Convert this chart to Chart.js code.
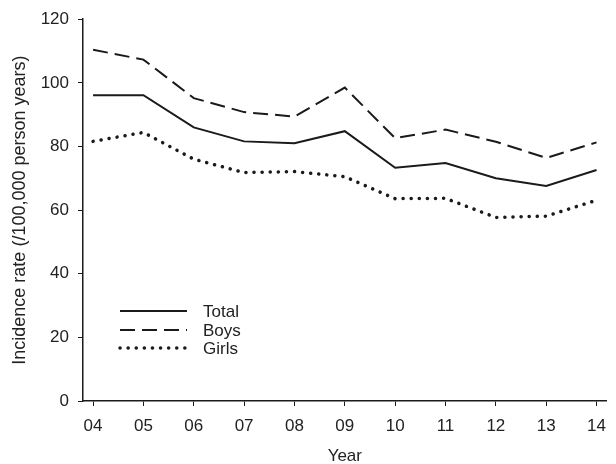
<!DOCTYPE html>
<html>
<head>
<meta charset="utf-8">
<script src="https://cdn.jsdelivr.net/npm/chart.js@4"></script>
<style>
  html, body { margin: 0; padding: 0; background: #fff; }
  #wrap { width: 616px; height: 464px; }
</style>
</head>
<body>
<div id="wrap"><canvas id="chart" width="616" height="464"></canvas></div>
<script>
// data
const years = [4, 5, 6, 7, 8, 9, 10, 11, 12, 13, 14];
const totalRates = [96.1, 96.1, 86.0, 81.6, 81.0, 84.8, 73.3, 74.8, 70.0, 67.6, 72.6];
const boysRates = [110.4, 107.3, 95.2, 90.8, 89.4, 98.5, 82.6, 85.3, 81.5, 76.4, 81.3];
const girlsRates = [81.6, 84.4, 76.0, 71.8, 72.1, 70.5, 63.6, 63.7, 57.7, 58.1, 63.1];
const seriesNames = ["Total", "Boys", "Girls"];
const yTicks = [0, 20, 40, 60, 80, 100, 120];

const ink = "#1a1a1a";
const family = "'Liberation Sans', Arial, sans-serif";
const font = { family: family, size: 17 };

const toPoints = (vals) => vals.map((v, i) => ({ x: years[i], y: v }));

// legend drawn inside the plot, lines like the original
const lineLegend = {
    id: "lineLegend",
    afterDraw(chart) {
        const ctx = chart.ctx;
        const x0 = 120, x1 = 187, tx = 203;
        const rows = [311, 330, 348];
        chart.data.datasets.forEach((ds, i) => {
            ctx.save();
            ctx.strokeStyle = ds.borderColor;
            ctx.lineWidth = ds.borderWidth;
            ctx.lineCap = ds.borderCapStyle || "butt";
            ctx.setLineDash(ds.borderDash || []);
            ctx.beginPath();
            ctx.moveTo(x0, rows[i]);
            ctx.lineTo(x1, rows[i]);
            ctx.stroke();
            ctx.setLineDash([]);
            ctx.fillStyle = "#222";
            ctx.font = font.size + "px " + family;
            ctx.textBaseline = "middle";
            ctx.fillText(ds.label, tx, rows[i] + 1);
            ctx.restore();
        });
    }
};

new Chart(document.getElementById("chart"), {
    type: "line",
    data: {
        datasets: [
            {
                label: seriesNames[0],
                data: toPoints(totalRates),
                borderColor: ink,
                borderWidth: 2,
                pointRadius: 0,
                tension: 0
            },
            {
                label: seriesNames[1],
                data: toPoints(boysRates),
                borderColor: ink,
                borderWidth: 2,
                borderDash: [15, 7],
                pointRadius: 0,
                tension: 0
            },
            {
                label: seriesNames[2],
                data: toPoints(girlsRates),
                borderColor: ink,
                borderWidth: 3.5,
                borderDash: [0.1, 8],
                borderCapStyle: "round",
                pointRadius: 0,
                tension: 0
            }
        ]
    },
    options: {
        responsive: false,
        animation: false,
        layout: { padding: { top: 19, right: 0, left: 0, bottom: -3 } },
        plugins: {
            legend: { display: false },
            tooltip: { enabled: false }
        },
        scales: {
            x: {
                type: "linear",
                min: 3.8,
                max: 14.2,
                afterBuildTicks: (scale) => { scale.ticks = years.map(v => ({ value: v })); },
                afterFit: (scale) => { scale.height = 66; },
                border: { display: true, color: ink, width: 1.5 },
                grid: { drawOnChartArea: false, drawTicks: true, tickLength: 5, color: ink },
                ticks: {
                    color: "#222",
                    font: font,
                    padding: 10,
                    maxRotation: 0,
                    callback: (v) => String(v).padStart(2, "0")
                },
                title: { display: true, text: "Year", color: "#222", font: font, padding: { top: 11, bottom: 0 } }
            },
            y: {
                min: 0,
                max: 120,
                afterBuildTicks: (scale) => { scale.ticks = yTicks.map(v => ({ value: v })); },
                afterFit: (scale) => { scale.width = 83; },
                border: { display: true, color: ink, width: 1.5 },
                grid: { drawOnChartArea: false, drawTicks: true, tickLength: 5, color: ink },
                ticks: { color: "#222", font: font, padding: 9 },
                title: {
                    display: true,
                    text: "Incidence rate (/100,000 person years)",
                    color: "#222",
                    font: { family: family, size: 18 },
                    padding: { top: 9, bottom: 0 }
                }
            }
        }
    },
    plugins: [lineLegend]
});
</script>
</body>
</html>
